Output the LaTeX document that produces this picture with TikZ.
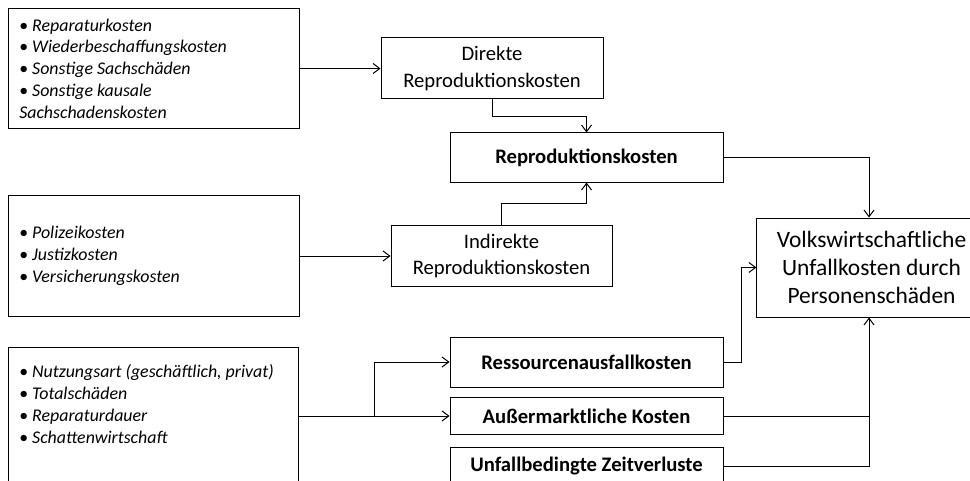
\documentclass[tikz,border=0pt]{standalone}
\usepackage{fontspec}
\setmainfont{Carlito}
\usetikzlibrary{arrows.meta}
\newcommand\itm[1]{\textbullet\ \textit{#1}}
\begin{document}
\begin{tikzpicture}[x=0.75pt, y=-0.75pt, >={Straight Barb[length=5pt,width=7.5pt]},
    box/.style={draw, line width=0.75pt, inner sep=0pt, align=center},
    items/.style={anchor=west, inner sep=0pt, align=left, font=\fontsize{13.4}{16.3}\selectfont},
    head/.style={box, font=\fontsize{15.5}{20}\selectfont},
    bhead/.style={head, font=\fontsize{15.5}{20}\selectfont\bfseries, minimum width=204.75pt},
    link/.style={line width=0.75pt, ->}]
    \useasboundingbox (0,0) rectangle (970,481);
    \begin{scope}
    \clip (0,0) rectangle (970,481);
    % Listen links
    \node[box, minimum width=218.25pt, minimum height=90pt] (sachliste) at (153.5,68.5) {};
    \node[items] (sachtext) at (19,68.5) {\itm{Reparaturkosten}\\ \itm{Wiederbeschaffungskosten}\\
        \itm{Sonstige Sachschäden}\\ \itm{Sonstige kausale}\\ \textit{Sachschadenskosten}};
    \node[box, minimum width=218.25pt, minimum height=90.75pt] (indliste) at (153.5,256) {};
    \node[items] (indtext) at (19,256) {\itm{Polizeikosten}\\ \itm{Justizkosten}\\ \itm{Versicherungskosten}};
    \node[box, minimum width=217.5pt, minimum height=103.5pt] (zeitliste) at (153,416) {};
    \node[items] (zeittext) at (19,404) {\itm{Nutzungsart (geschäftlich, privat)}\\ \itm{Totalschäden}\\
        \itm{Reparaturdauer}\\ \itm{Schattenwirtschaft}};
    % Kostenarten
    \node[head, minimum width=166.5pt, minimum height=45.75pt] (direkt) at (492,68.5) {Direkte\\Reproduktionskosten};
    \node[bhead, minimum height=36.75pt] (repro) at (586.5,157.5) {Reproduktionskosten};
    \node[head, minimum width=165.75pt, minimum height=45.75pt] (indirekt) at (501.5,256) {Indirekte\\Reproduktionskosten};
    \node[box, font=\fontsize{17.6}{21}\selectfont, minimum width=172pt, minimum height=74.25pt] (volks) at (871.5,267.5)
        {Volkswirtschaftliche\\Unfallkosten durch\\Personenschäden};
    \node[bhead, minimum height=37.5pt] (ress) at (586.5,362) {Ressourcenausfallkosten};
    \node[bhead, minimum height=27.75pt] (auss) at (586.5,416) {Außermarktliche Kosten};
    \node[bhead, minimum height=28.5pt] (unfall) at (586.5,466) {Unfallbedingte Zeitverluste};
    % Verbindungen
    \draw[link] (sachliste) -- (direkt);
    \draw[link] (direkt.south) -- ++(0,17) -| (repro.north);
    \draw[link] (indliste) -- (indirekt);
    \draw[link] (indirekt.north) -- ++(0,-22) -| (repro.south);
    \draw[link] (repro.east) -| (869,0 |- volks.north);
    \draw[link] (ress.east) -- ++(18,0) |- (volks.west);
    \draw[line width=0.75pt] (auss.east) -- (auss.east -| 869,0);
    \draw[link] (unfall.east) -| (869,0 |- volks.south);
    \draw[link] (zeitliste) -- (auss);
    \path (zeitliste.east) ++(76,0) coordinate (split);
    \draw[link] (split) |- (ress.west);
    \end{scope}
\end{tikzpicture}
\end{document}
